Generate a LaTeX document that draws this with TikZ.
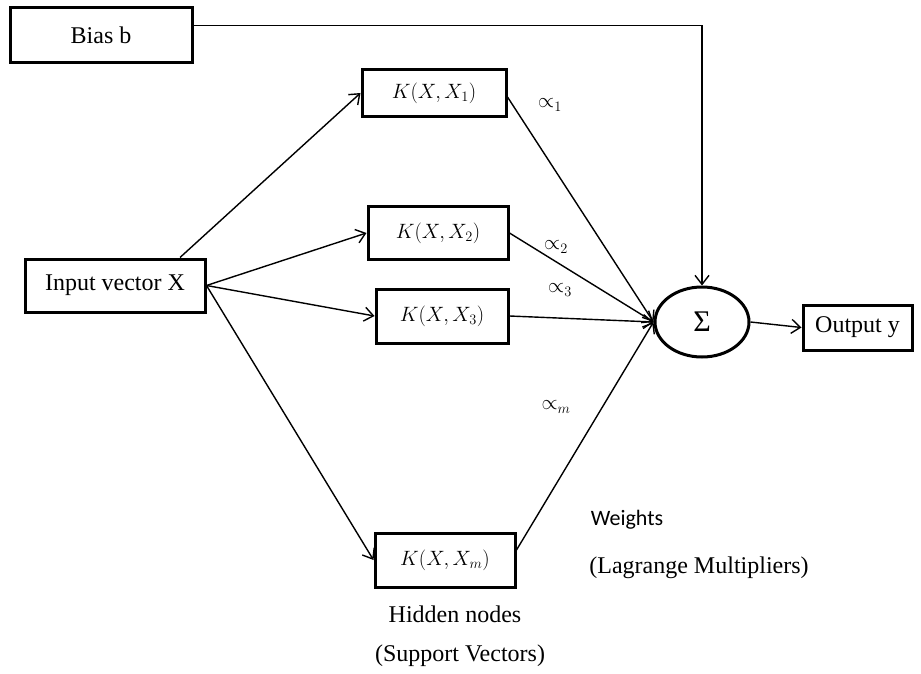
\documentclass[tikz,border=0pt]{standalone}
\usepackage{fontspec}
\setmainfont{Liberation Serif}
\newfontfamily\calfont{Carlito}
\usetikzlibrary{arrows.meta,shapes.geometric,positioning}
\begin{document}
\begin{tikzpicture}[x=1pt,y=-1pt,
  box/.style={draw,line width=3pt,rectangle,inner sep=0pt,font=\fontsize{24}{27}\selectfont},
  kbox/.style={box,font=\fontsize{19.5}{23}\selectfont},
  conn/.style={line width=1.4pt,-{Straight Barb[length=9pt,width=14pt,line width=1.4pt]}},
  lab/.style={inner sep=0pt,font=\fontsize{24}{28}\selectfont},
  wlab/.style={inner sep=0pt,font=\fontsize{22}{26}\selectfont}]
\useasboundingbox (0,0) rectangle (921,674);
\fill[white] (0,0) rectangle (921,674);

\node[box,minimum width=182pt,minimum height=55pt] (bias) at (101,35.5) {Bias b};
\node[box,minimum width=180pt,minimum height=53pt] (inp) at (115,285.5) {Input vector X};
\node[kbox,minimum width=144pt,minimum height=47pt] (k1) at (434,93) {$K(X,X_1)$};
\node[kbox,minimum width=140pt,minimum height=53pt] (k2) at (438,233) {$K(X,X_2)$};
\node[kbox,minimum width=132pt,minimum height=54pt] (k3) at (442,316) {$K(X,X_3)$};
\node[kbox,minimum width=140pt,minimum height=54pt] (km) at (445,560) {$K(X,X_m)$};
\node[draw,ellipse,line width=3pt,minimum width=94pt,minimum height=70pt,inner sep=0pt,font=\fontsize{30}{32}\selectfont] (sig) at (702,322) {Σ};
\node[box,minimum width=109pt,minimum height=45pt] (out) at (857.5,327.5) {Output y};

\draw[conn] ([yshift=10pt]bias.east) -| (sig.north);
\draw[conn] ([xshift=65pt]inp.north) -- (k1.west);
\draw[conn] (inp.east) -- (k2.west);
\draw[conn] (inp.east) -- (k3.west);
\draw[conn] (inp.east) -- (km.west);
\draw[conn] ([yshift=-4pt]k1.east) -- (sig.west);
\draw[conn] (k2.east) -- (sig.west);
\draw[conn] (k3.east) -- (sig.west);
\draw[conn] ([yshift=10pt]km.east) -- (sig.west);
\draw[conn] (sig.east) -- (out.west);

\node[wlab] (a1) at (550,105) {$\propto_1$};
\node[wlab] (a2) at (556,247) {$\propto_2$};
\node[wlab] (a3) at (560,290) {$\propto_3$};
\node[wlab] (am) at (556,407) {$\propto_m$};
\node[inner sep=0pt,font=\calfont\fontsize{22}{26}\selectfont] (w) at (627,520) {Weights};
\node[lab] (lm) at (699,568) {(Lagrange Multipliers)};
\node[lab] (hn) at (455,614) {Hidden nodes};
\node[lab] (sv) at (460,656) {(Support Vectors)};
\end{tikzpicture}
\end{document}
